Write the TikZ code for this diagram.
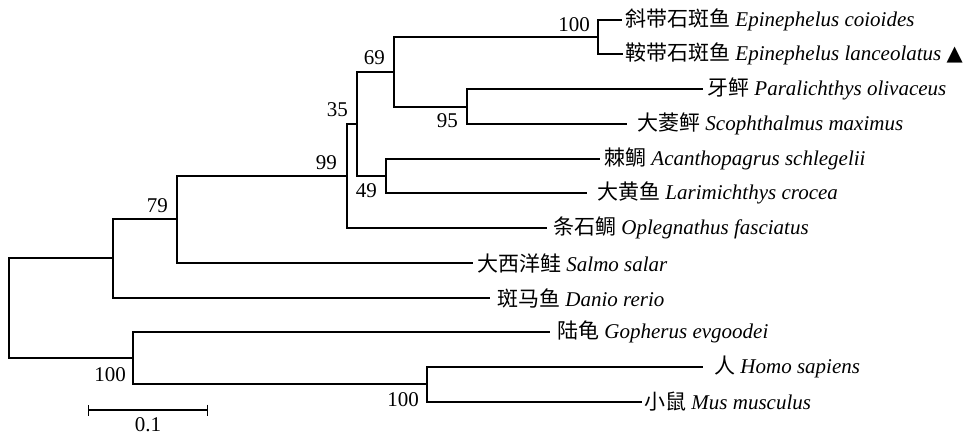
\documentclass[tikz,border=0pt]{standalone}
\usepackage{fontspec}
\setmainfont{Liberation Serif}
\newfontfamily\cjk{Noto Sans CJK SC}
\newfontfamily\symfont{DejaVu Sans}
\usetikzlibrary{positioning,arrows.meta}
\newcommand{\taxon}[2]{{\cjk #1} \textit{#2}}

\begin{document}
\begin{tikzpicture}[x=1pt, y=-1pt, font=\fontsize{21pt}{25pt}\selectfont,
        branch/.style={line width=1.2pt},
        leaf/.style={anchor=west, inner xsep=4pt, inner ysep=0pt},
        bs/.style={inner sep=0pt}]
        \useasboundingbox (0,0) rectangle (973,436);

        \coordinate (root) at (9,308);
        \coordinate (n0) at (113,258);
        \coordinate (n79) at (177,219);
        \coordinate (n99) at (347,176);
        \coordinate (n35) at (357,124);
        \coordinate (n69) at (394,72);
        \coordinate (n100a) at (598,37);
        \coordinate (n95) at (467,107);
        \coordinate (n49) at (386,176);
        \coordinate (n100b) at (133,358);
        \coordinate (n100c) at (427,384);

        \node[leaf, inner xsep=3pt] (Ecoi) at (622,20) {\taxon{斜带石斑鱼}{Epinephelus coioides}};
        \node[leaf, inner xsep=2pt] (Elan) at (623,54) {\taxon{鞍带石斑鱼}{Epinephelus lanceolatus} {\symfont ▲}};
        \node[leaf] (Poli) at (703,89) {\taxon{牙鲆}{Paralichthys olivaceus}};
        \node[leaf, inner xsep=10pt] (Smax) at (627,124) {\taxon{大菱鲆}{Scophthalmus maximus}};
        \node[leaf] (Asch) at (600,159) {\taxon{棘鲷}{Acanthopagrus schlegelii}};
        \node[leaf, inner xsep=10pt] (Lcro) at (587,193) {\taxon{大黄鱼}{Larimichthys crocea}};
        \node[leaf, inner xsep=6pt] (Ofas) at (547,228) {\taxon{条石鲷}{Oplegnathus fasciatus}};
        \node[leaf] (Ssal) at (473,263) {\taxon{大西洋鲑}{Salmo salar}};
        \node[leaf, inner xsep=7pt] (Drer) at (490,298) {\taxon{斑马鱼}{Danio rerio}};
        \node[leaf, inner xsep=7pt] (Gevg) at (550,332) {\taxon{陆龟}{Gopherus evgoodei}};
        \node[leaf, inner xsep=11pt] (Hsap) at (703,367) {\taxon{人}{Homo sapiens}};
        \node[leaf, inner xsep=2pt] (Mmus) at (642,402) {\taxon{小鼠}{Mus musculus}};

        %root to fish and tetrapods
        \draw[branch] (root) |- (n0);
        \draw[branch] (root) |- (n100b);

        %fish
        \draw[branch] (n0) |- (n79);
        \draw[branch] (n0) |- (Drer.west);
        \draw[branch] (n79) |- (n99);
        \draw[branch] (n79) |- (Ssal.west);
        \draw[branch] (n99) |- (n35);
        \draw[branch] (n99) |- (Ofas.west);
        \draw[branch] (n35) |- (n69);
        \draw[branch] (n35) |- (n49);
        \draw[branch] (n69) |- (n100a);
        \draw[branch] (n69) |- (n95);
        \draw[branch] (n100a) |- (Ecoi.west);
        \draw[branch] (n100a) |- (Elan.west);
        \draw[branch] (n95) |- (Poli.west);
        \draw[branch] (n95) |- (Smax.west);
        \draw[branch] (n49) |- (Asch.west);
        \draw[branch] (n49) |- (Lcro.west);

        %tetrapods
        \draw[branch] (n100b) |- (Gevg.west);
        \draw[branch] (n100b) |- (n100c);
        \draw[branch] (n100c) |- (Hsap.west);
        \draw[branch] (n100c) |- (Mmus.west);

        %bootstrap values
        \node[bs, above left=5pt and 8pt of n100a] (b100a) {100};
        \node[bs, above left=7pt and 9pt of n69] (b69) {69};
        \node[bs, above left=7pt and 9pt of n35] (b35) {35};
        \node[bs, above left=6pt and 10pt of n99] (b99) {99};
        \node[bs, above left=6pt and 9pt of n79] (b79) {79};
        \node[bs, below left=6pt and 9pt of n95] (b95) {95};
        \node[bs, below left=7pt and 9pt of n49] (b49) {49};
        \node[bs, below left=9pt and 7pt of n100b] (b100b) {100};
        \node[bs, below left=8pt and 8pt of n100c] (b100c) {100};

        %scale bar
        \coordinate (sL) at (88,410);
        \coordinate (sR) at (208,410);
        \draw[branch, {Bar[width=11pt]}-{Bar[width=11pt]}] (sL) -- (sR);
        \path (sL) -- (sR) coordinate[midway] (sM);
        \node[bs, below=7pt of sM] (sLab) {0.1};
\end{tikzpicture}
\end{document}
